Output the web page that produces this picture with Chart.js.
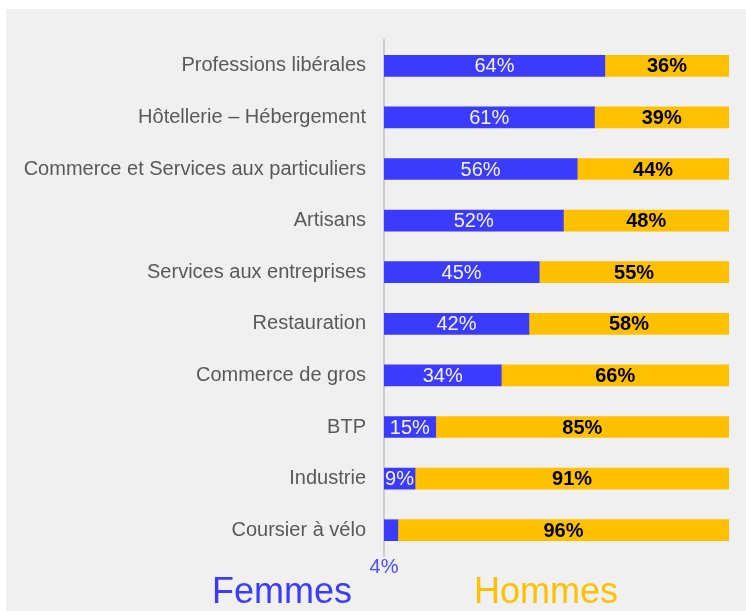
<!DOCTYPE html>
<html>
<head>
<meta charset="utf-8">
<script src="https://cdn.jsdelivr.net/npm/chart.js@4.4.1/dist/chart.umd.min.js"></script>
<style>
html,body{margin:0;padding:0;background:#ffffff;}
canvas{display:block;}
</style>
</head>
<body>
<canvas id="c" width="746" height="611"></canvas>
<script>
const categories = [
  "Professions libérales",
  "Hôtellerie – Hébergement",
  "Commerce et Services aux particuliers",
  "Artisans",
  "Services aux entreprises",
  "Restauration",
  "Commerce de gros",
  "BTP",
  "Industrie",
  "Coursier à vélo"
];
const femmes = [64, 61, 56, 52, 45, 42, 34, 15, 9, 4];
const hommes = [36, 39, 44, 48, 55, 58, 66, 85, 91, 96];
const seriesNames = ["Femmes", "Hommes"];
const colors = ["#3b3bfd", "#ffc000"];

const bgPlugin = {
  id: 'bg',
  beforeDraw(chart) {
    const ctx = chart.ctx;
    ctx.save();
    ctx.fillStyle = '#ffffff';
    ctx.fillRect(0, 0, chart.width, chart.height);
    ctx.fillStyle = '#f0f0f0';
    ctx.fillRect(6, 9, chart.width - 6, chart.height - 9);
    ctx.restore();
  }
};

const labelPlugin = {
  id: 'valLabels',
  afterDatasetsDraw(chart) {
    const ctx = chart.ctx;
    ctx.save();
    ctx.textBaseline = 'middle';
    ctx.textAlign = 'center';
    chart.data.datasets.forEach((ds, di) => {
      const meta = chart.getDatasetMeta(di);
      meta.data.forEach((bar, i) => {
        const v = ds.data[i];
        const txt = v + '%';
        const cx = (bar.x + bar.base) / 2;
        if (di === 0) {
          ctx.font = '20px "Liberation Sans", Arial, sans-serif';
          if (v >= 8) {
            ctx.fillStyle = '#f2f2ff';
            ctx.fillText(txt, cx, bar.y + 1);
          } else {
            ctx.fillStyle = '#4d4dff';
            ctx.fillText(txt, bar.base, bar.y + 37);
          }
        } else {
          ctx.font = 'bold 20px "Liberation Sans", Arial, sans-serif';
          ctx.fillStyle = '#000000';
          ctx.fillText(txt, cx, bar.y + 1);
        }
      });
    });
    ctx.restore();
  }
};

const legendPlugin = {
  id: 'bigLegend',
  afterDraw(chart) {
    const ctx = chart.ctx;
    ctx.save();
    ctx.font = '36px "Liberation Sans", Arial, sans-serif';
    ctx.textAlign = 'center';
    ctx.textBaseline = 'alphabetic';
    const xs = [282, 546];
    chart.data.datasets.forEach((ds, di) => {
      ctx.fillStyle = ds.backgroundColor;
      ctx.fillText(ds.label, xs[di], 603);
    });
    ctx.restore();
  }
};

new Chart(document.getElementById('c'), {
  type: 'bar',
  data: {
    labels: categories,
    datasets: [
      { label: seriesNames[0], data: femmes, backgroundColor: colors[0], barThickness: 21 },
      { label: seriesNames[1], data: hommes, backgroundColor: colors[1], barThickness: 21 }
    ]
  },
  options: {
    indexAxis: 'y',
    responsive: false,
    animation: false,
    layout: { padding: { left: 0, right: 17, top: 40, bottom: 55 } },
    plugins: { legend: { display: false }, tooltip: { enabled: false } },
    scales: {
      x: { stacked: true, min: 0, max: 100, display: false },
      y: {
        stacked: true,
        afterFit(scale) { scale.width = 384; },
        grid: { display: false, drawTicks: false },
        border: { display: true, color: '#cccccc', width: 2 },
        ticks: {
          padding: 18,
          color: '#595959',
          font: { family: '"Liberation Sans", Arial, sans-serif', size: 20 }
        }
      }
    }
  },
  plugins: [bgPlugin, labelPlugin, legendPlugin]
});
</script>
</body>
</html>
